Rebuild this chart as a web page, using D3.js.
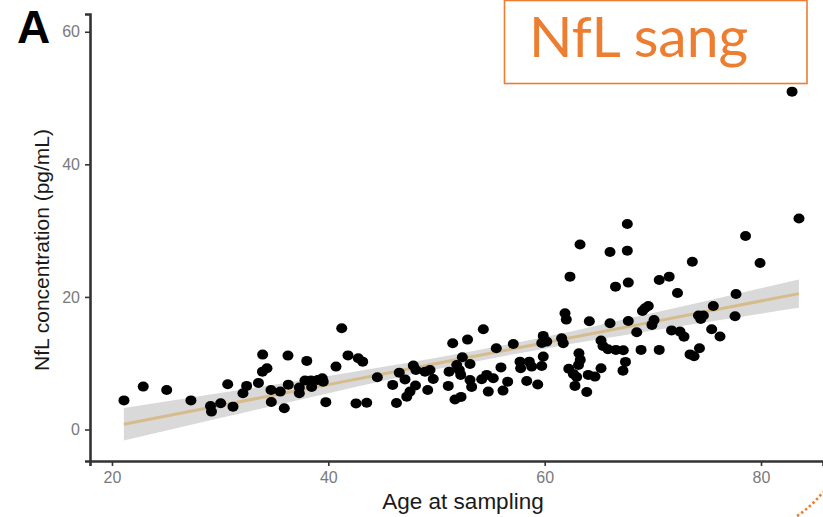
<!DOCTYPE html>
<html><head><meta charset="utf-8">
<script src="https://cdn.jsdelivr.net/npm/d3@7"></script>
<style>html,body{margin:0;padding:0;background:#fff;} svg{display:block}</style>
</head><body>
<svg id="chart" width="823" height="517"></svg>
<script>
// Data
const ages = [21.11,22.89,25.06,27.30,29.11,29.20,30.05,31.19,30.70,32.11,32.45,33.54,33.93,33.91,34.33,34.70,35.56,34.73,35.93,36.27,36.30,37.32,37.32,38.01,37.84,38.40,38.46,39.02,39.44,39.53,39.77,40.71,
41.24,41.82,42.77,43.18,42.56,43.55,44.53,45.95,46.30,46.56,47.09,47.25,47.55,48.06,47.86,48.10,48.94,49.40,49.70,49.19,
51.50,52.87,54.33,52.39,51.87,52.11,52.24,53.10,51.16,51.09,51.71,52.27,53.10,53.25,54.18,54.64,55.25,54.79,55.53,55.96,56.15,56.58,57.10,57.72,57.78,58.58,58.80,58.34,59.36,59.73,59.87,59.87,60.19,59.73,61.57,61.72,
61.88,62.00,63.27,62.34,66.04,67.64,67.64,66.55,67.73,70.59,71.51,72.28,73.65,64.13,66.04,67.73,69.27,69.58,69.04,70.11,69.92,68.51,65.21,65.39,65.85,66.59,67.27,67.47,67.24,68.91,70.59,71.73,72.51,72.88,73.44,63.17,63.29,63.13,62.23,62.65,62.96,64.03,64.65,65.21,62.80,63.89,
74.22,74.67,74.43,75.59,77.69,77.60,75.44,76.21,74.31,73.81,78.57,79.91,83.51,82.87];
const nfl = [4.39,6.47,5.97,4.39,3.56,2.70,3.97,3.45,6.83,5.48,6.58,7.03,11.30,8.73,9.25,5.97,5.72,4.16,3.21,11.15,6.77,6.35,5.48,10.35,7.38,7.41,6.43,7.48,7.74,7.22,4.13,9.49,
15.28,11.18,10.75,10.24,3.94,4.04,7.89,6.73,4.01,8.58,7.56,4.96,5.72,6.65,9.64,8.99,8.73,8.99,7.63,5.97,
13.02,13.56,15.13,10.90,9.74,8.99,8.24,9.89,8.73,6.58,4.54,4.92,7.48,6.43,7.59,8.24,7.74,5.72,12.26,9.37,5.87,7.22,12.91,10.24,9.25,10.24,9.49,7.33,6.80,9.59,11.00,14.12,13.26,13.06,13.77,13.02,
17.54,16.58,27.92,23.06,26.79,26.98,31.01,21.55,22.16,22.56,23.06,20.60,25.31,16.33,16.03,16.38,18.30,18.64,17.89,16.53,15.78,14.68,13.44,12.61,12.11,12.01,11.96,10.20,8.88,12.01,12.01,14.95,14.77,14.01,11.33,11.51,10.50,9.74,9.17,8.39,7.93,8.24,7.98,9.25,6.58,5.67,
17.21,17.21,16.68,18.64,20.45,17.09,15.13,14.04,12.26,11.06,29.20,25.13,31.84,50.97];

const fitAges   = [21.1, 30, 40, 50, 60, 70, 83.5];
const fitValues = [0.8, 3.61, 6.77, 9.95, 13.08, 16.24, 20.5];
const ciLow     = [-1.65, 1.73, 5.48, 9.09, 12.20, 14.92, 18.36];
const ciHigh    = [3.25, 5.49, 8.06, 10.81, 13.96, 17.56, 22.64];

const xTicks = [20, 40, 60, 80];
const yTicks = [0, 20, 40, 60];
const xTitle = "Age at sampling";
const yTitle = "NfL concentration (pg/mL)";
const panelLabel = "A";
const boxLabel = "NfL sang";

const svg = d3.select("#chart");
const x = d3.scaleLinear().domain([17.97, 85.73]).range([90, 823]);
const y = d3.scaleLinear().domain([-4.75, 62.68]).range([461, 14]);

// ribbon
const band = fitAges.map((a, i) => ({a, lo: ciLow[i], hi: ciHigh[i], v: fitValues[i]}));
svg.append("path")
  .datum(band)
  .attr("fill", "#d9d9d9")
  .attr("d", d3.area().x(d => x(d.a)).y0(d => y(d.lo)).y1(d => y(d.hi)).curve(d3.curveMonotoneX));
svg.append("path")
  .datum(band)
  .attr("fill", "none")
  .attr("stroke", "#d6bb8c")
  .attr("stroke-width", 3)
  .attr("d", d3.line().x(d => x(d.a)).y(d => y(d.v)));

// points
svg.append("g").selectAll("ellipse")
  .data(ages.map((a, i) => ({a, v: nfl[i]})))
  .join("ellipse")
  .attr("cx", d => x(d.a))
  .attr("cy", d => y(d.v))
  .attr("rx", 5.5)
  .attr("ry", 5)
  .attr("fill", "#000");

// axes
const xAxis = svg.append("g").attr("transform", "translate(0,461)")
  .call(d3.axisBottom(x).tickValues(xTicks).tickSizeOuter(0).tickSize(5).tickPadding(6));
const yAxis = svg.append("g").attr("transform", "translate(90,0)")
  .call(d3.axisLeft(y).tickValues(yTicks).tickSizeOuter(0).tickSize(5).tickPadding(5));
[xAxis, yAxis].forEach(g => {
  g.select(".domain").attr("stroke", "#333").attr("stroke-width", 2.6);
  g.selectAll(".tick line").attr("stroke", "#333").attr("stroke-width", 1.6);
  g.selectAll(".tick text").attr("fill", "#7a7a7a").attr("font-size", 16)
    .attr("font-family", "Liberation Sans, Arial, sans-serif");
});

// titles
svg.append("text").attr("x", 463).attr("y", 509).attr("text-anchor", "middle")
  .attr("font-family", "Liberation Sans, Arial, sans-serif").attr("font-size", 22.5)
  .attr("fill", "#1a1a1a").text(xTitle);
svg.append("text").attr("transform", "translate(49,250) rotate(-90)").attr("text-anchor", "middle")
  .attr("font-family", "Liberation Sans, Arial, sans-serif").attr("font-size", 21)
  .attr("fill", "#1a1a1a").text(yTitle);
svg.append("text").attr("x", 17).attr("y", 43)
  .attr("font-family", "Liberation Sans, Arial, sans-serif").attr("font-size", 46)
  .attr("font-weight", "bold").attr("fill", "#000").text(panelLabel);

// orange annotation box
svg.append("rect").attr("x", 504.5).attr("y", 0.5).attr("width", 302.5).attr("height", 83)
  .attr("fill", "#fff").attr("stroke", "#ED7D31").attr("stroke-width", 1.6);
svg.append("text").attr("x", 529).attr("y", 57)
  .attr("font-family", "Lato, 'Open Sans', sans-serif").attr("font-size", 57)
  .attr("fill", "#ED7D31").text(boxLabel);

// dotted orange arc fragment
svg.append("path")
  .attr("d", "M797,516 Q812,506 823,492")
  .attr("fill", "none").attr("stroke", "#ED7D31").attr("stroke-width", 2.6)
  .attr("stroke-dasharray", "2.5,2.5");
</script>
</body></html>
